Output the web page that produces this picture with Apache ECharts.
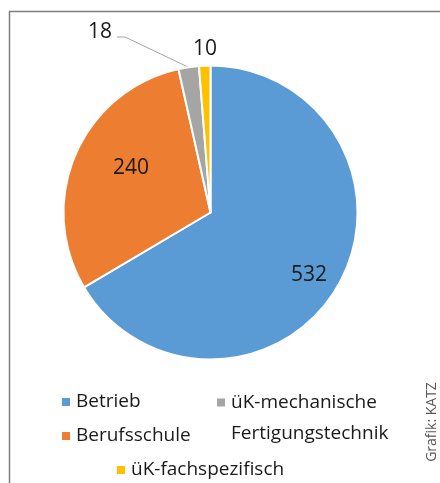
<!DOCTYPE html>
<html>
<head>
<meta charset="utf-8">
<script src="https://cdn.jsdelivr.net/npm/echarts@6/dist/echarts.min.js"></script>
<style>
  body { margin: 0; background: #fff; }
  #chart { width: 440px; height: 483px; }
</style>
</head>
<body>
<div id="chart"></div>
<script>
  const categories = ['Betrieb', 'Berufsschule', 'üK-mechanische Fertigungstechnik', 'üK-fachspezifisch'];
  const values = [532, 240, 18, 10];
  const colors = ['#5b9bd5', '#ed7d31', '#a5a5a5', '#ffc000'];

  // where the value labels sit
  const labelSpots = [
    { x: 309, y: 275 },
    { x: 131, y: 168 },
    { x: 100, y: 32, line: [[188, 67], [125, 37], [117, 37]] },
    { x: 205, y: 49 }
  ];

  const chart = echarts.init(document.getElementById('chart'));
  const font = '"Open Sans", sans-serif';

  const legendBase = {
    orient: 'vertical',
    padding: 0,
    icon: 'rect',
    itemWidth: 10,
    itemHeight: 10,
    selectedMode: false,
    textStyle: { fontFamily: font, fontSize: 19, color: '#1a1a1a', lineHeight: 20 }
  };

  chart.setOption({
    animation: false,
    color: colors,
    legend: [
      Object.assign({}, legendBase, {
        left: 60, top: 392, itemGap: 14,
        data: [categories[0], categories[1]]
      }),
      Object.assign({}, legendBase, {
        left: 215, top: 356,
        data: [categories[2]],
        formatter: () => '\nüK-mechanische\nFertigungstechnik',
        textStyle: { fontFamily: font, fontSize: 19, color: '#1a1a1a', lineHeight: 31 }
      }),
      Object.assign({}, legendBase, {
        left: 115, top: 460,
        data: [categories[3]]
      })
    ],
    graphic: [
      {
        type: 'polyline',
        silent: true,
        shape: { points: [[9.5, 490], [9.5, 11.5], [450, 11.5]] },
        style: { stroke: '#7f7f7f', lineWidth: 1.5, fill: null }
      },
      {
        type: 'text',
        x: 432, y: 422,
        rotation: Math.PI / 2,
        style: {
          text: 'Grafik: KATZ',
          fontFamily: font, fontSize: 14, fill: '#595959',
          align: 'center', verticalAlign: 'middle'
        }
      }
    ],
    series: [{
      type: 'pie',
      center: [210.5, 212.5],
      radius: 147,
      startAngle: 90,
      clockwise: true,
      avoidLabelOverlap: false,
      itemStyle: { borderColor: '#fff', borderWidth: 2 },
      label: {
        show: true,
        position: 'outside',
        formatter: '{c}',
        fontFamily: font,
        fontSize: 21,
        color: '#1a1a1a'
      },
      labelLine: { show: false, lineStyle: { color: '#a5a5a5', width: 1 } },
      labelLayout: (p) => {
        const s = labelSpots[p.dataIndex];
        const out = { x: s.x, y: s.y, align: 'center', verticalAlign: 'middle' };
        if (s.line) out.labelLinePoints = s.line;
        return out;
      },
      data: categories.map((name, i) => ({
        name: name,
        value: values[i],
        labelLine: { show: i === 2 }
      }))
    }]
  });
</script>
</body>
</html>
